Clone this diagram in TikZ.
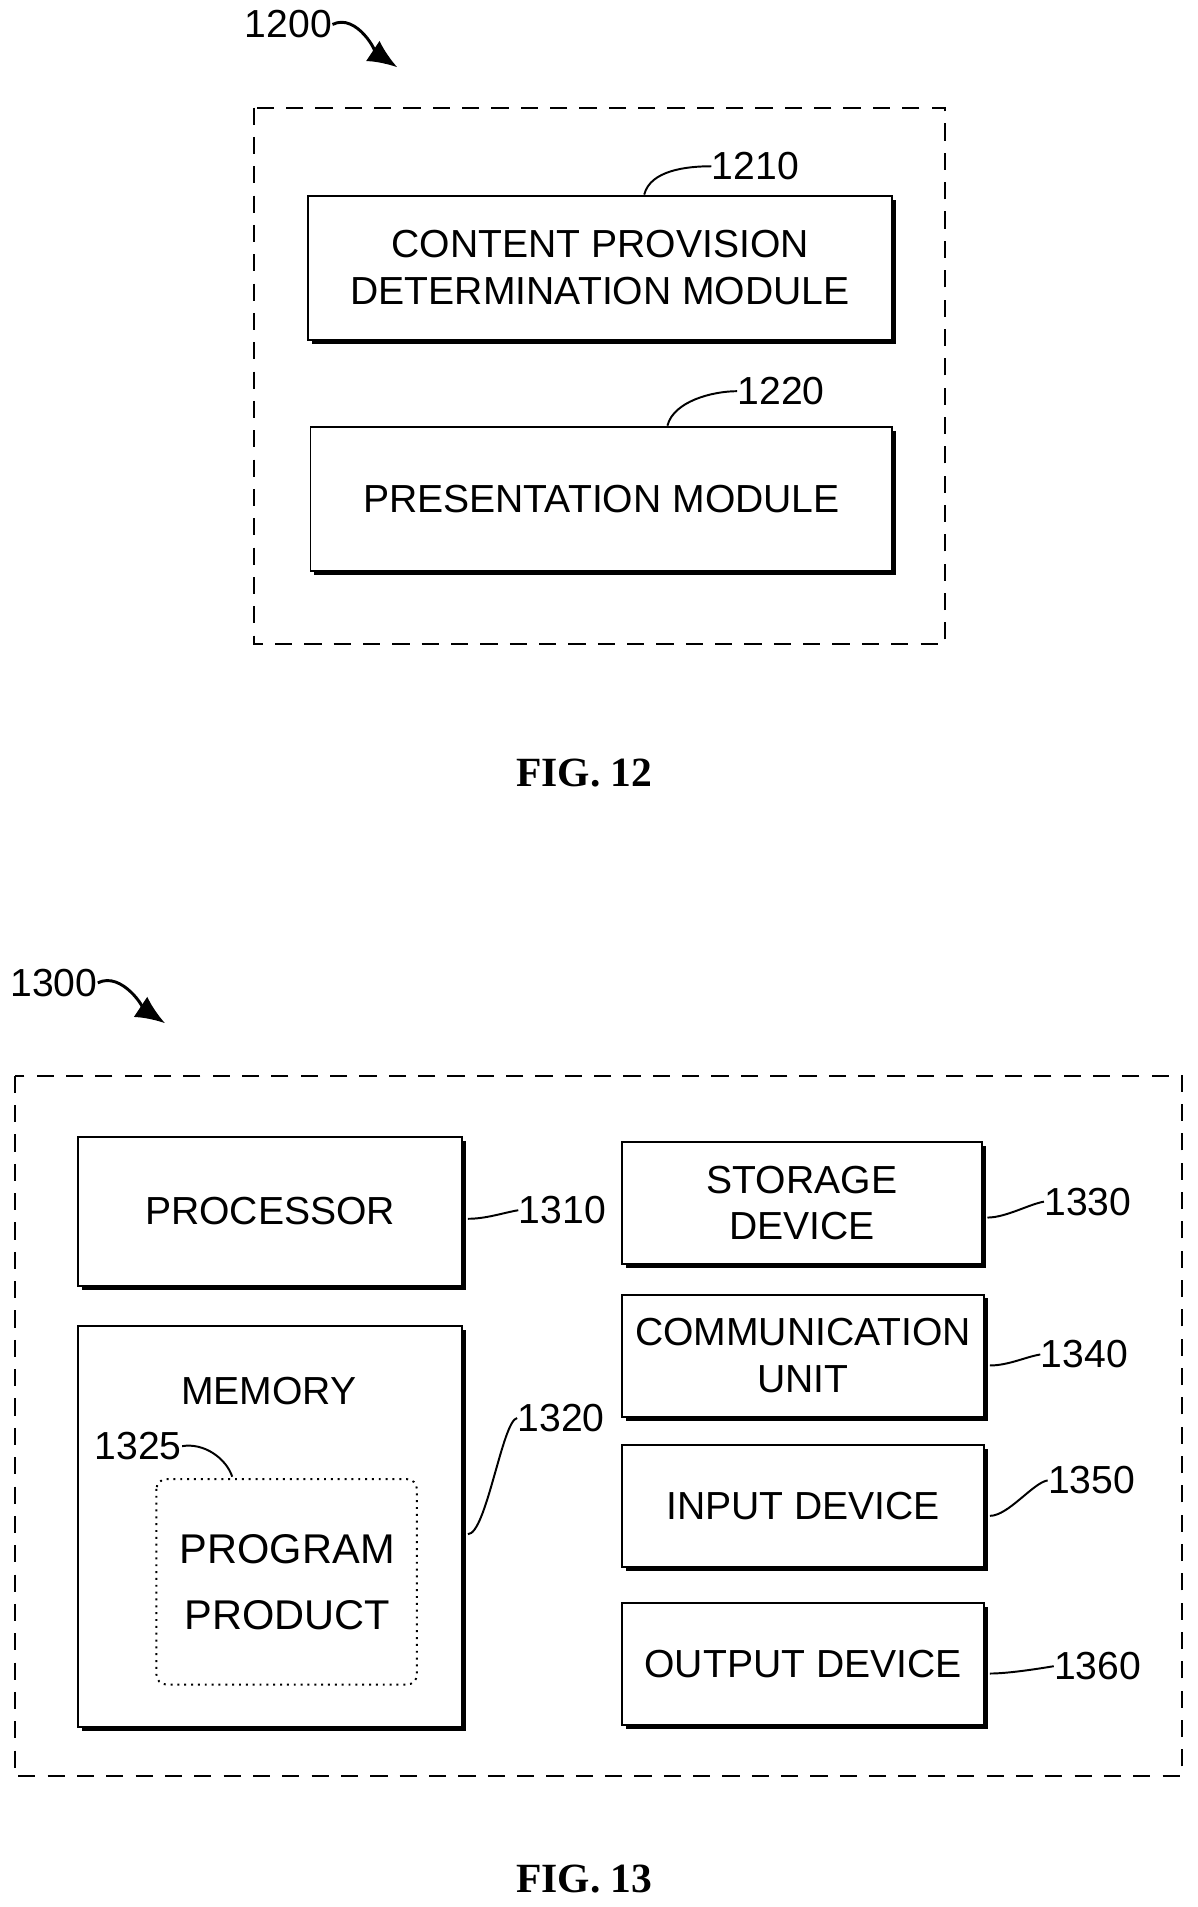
\documentclass[tikz,border=0pt]{standalone}
\usepackage{fontspec}
\setmainfont{Liberation Sans}
\newfontfamily\figfont{Liberation Serif}
\usetikzlibrary{shadows,arrows.meta}
\tikzstyle{module}=[draw=black,thick,fill=white,inner sep=2pt,align=center,font=\fontsize{16}{19}\selectfont,drop shadow={shadow xshift=1.6pt,shadow yshift=-1.6pt,opacity=1,fill=black}]
\tikzstyle{group}=[draw=black,thick,dash pattern=on 7pt off 5pt]
\tikzstyle{ref}=[inner sep=0pt,font=\fontsize{16}{19}\selectfont]
\tikzstyle{leader}=[draw=black,thick]
\tikzstyle{pointer}=[-{Latex[length=12pt,width=10pt]},draw=black,line width=1.2pt]
\tikzstyle{caption}=[inner sep=0pt,font=\figfont\bfseries\fontsize{17}{20}\selectfont]

\begin{document}
\begin{tikzpicture}[x=0.5pt,y=-0.5pt]
	\useasboundingbox (0,0) rectangle (980,1560);
	% FIG. 12
	\draw [style=group] (208,88) rectangle (773,527);
	\node [style=module,minimum width=239pt,minimum height=59pt] (1210) at (491,219) {CONTENT PROVISION\\DETERMINATION MODULE};
	\node [style=module,minimum width=238pt,minimum height=59pt] (1220) at (492,408) {PRESENTATION MODULE};
	\node [style=ref,anchor=west] (l1210) at (582,136) {1210};
	\node [style=ref,anchor=west] (l1220) at (603,320) {1220};
	\node [style=ref] (l1200) at (236,20) {1200};
	\coordinate (a1200) at (325,55);
	\draw [style=leader] (1210.north) ++(36,0) coordinate (t1210) .. controls +(5,-20) and +(-20,0) .. (l1210.west);
	\draw [style=leader] (1220.north) ++(54,0) coordinate (t1220) .. controls +(5,-20) and +(-20,0) .. (l1220.west);
	\draw [style=pointer] (l1200.east) .. controls +(20,-10) and +(-15,-10) .. (a1200);
	\node [style=caption] (fig12) at (478,632) {FIG. 12};
	% FIG. 13
	\draw [style=group] (12,880) rectangle (967,1453);
	\node [style=module,minimum width=157pt,minimum height=61pt] (1310) at (221,991) {PROCESSOR};
	\node [style=module,minimum width=157pt,minimum height=164pt] (1320) at (221,1249) {};
	\node [style=ref] (memory) at (220,1138) {MEMORY};
	\draw [thick,dotted,rounded corners=4pt] (128,1210) rectangle (341,1378);
	\node [style=ref,align=center,font=\fontsize{17}{27}\selectfont] (1325) at (235,1294) {PROGRAM\\PRODUCT};
	\node [style=ref] (l1325) at (113,1183) {1325};
	\draw [style=leader] (l1325.east) .. controls +(18,-3) and +(-5,-15) .. (190,1208);
	\node [style=module,minimum width=147pt,minimum height=50pt] (1330) at (656,984) {STORAGE\\DEVICE};
	\node [style=module,minimum width=148pt,minimum height=50pt] (1340) at (657,1109) {COMMUNICATION\\UNIT};
	\node [style=module,minimum width=148pt,minimum height=50pt] (1350) at (657,1232) {INPUT DEVICE};
	\node [style=module,minimum width=148pt,minimum height=50pt] (1360) at (657,1361) {OUTPUT DEVICE};
	\node [style=ref,anchor=west] (l1310) at (424,990) {1310};
	\node [style=ref,anchor=west] (l1320) at (423,1160) {1320};
	\node [style=ref,anchor=west] (l1330) at (854,983) {1330};
	\node [style=ref,anchor=west] (l1340) at (851,1108) {1340};
	\node [style=ref,anchor=west] (l1350) at (857,1211) {1350};
	\node [style=ref,anchor=west] (l1360) at (862,1363) {1360};
	\foreach \n/\d in {1310/3,1320/3,1330/6,1340/4,1350/4,1360/4}
		\draw [style=leader] ([xshift=2pt,yshift=-\d]\n.east) .. controls +(15,0) and +(-12,2) .. (l\n.west);
	\node [style=ref] (l1300) at (44,804) {1300};
	\coordinate (a1300) at (135,837);
	\draw [style=pointer] (l1300.east) .. controls +(20,-10) and +(-15,-10) .. (a1300);
	\node [style=caption] (fig13) at (478,1537) {FIG. 13};
\end{tikzpicture}
\end{document}
